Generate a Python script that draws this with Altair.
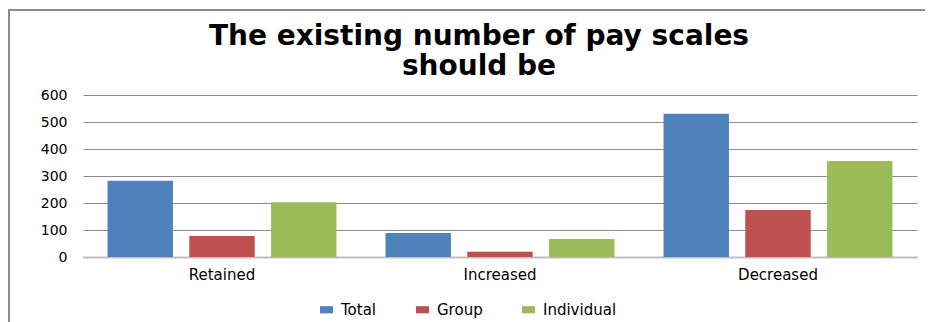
import altair as alt
import pandas as pd

categories = ["Retained", "Increased", "Decreased"]
series = ["Total", "Group", "Individual"]
total = [282, 89, 531]
group = [78, 19, 174]
individual = [203, 67, 356]
colors = ["#4F81BD", "#C0504D", "#9BBB59"]
y_ticks = [0, 100, 200, 300, 400, 500, 600]
title_lines = ["The existing number of pay scales", "should be"]

rows = []
for name, vals in zip(series, [total, group, individual]):
    for cat, v in zip(categories, vals):
        rows.append({"category": cat, "series": name, "value": v})
df = pd.DataFrame(rows)

bars = alt.Chart(df).mark_bar().encode(
    x=alt.X(
        "category:N",
        sort=categories,
        scale=alt.Scale(paddingInner=0, paddingOuter=0),
        axis=alt.Axis(
            title=None, labelAngle=0, ticks=False, domainColor="#bfbfbf",
            domainWidth=2, labelFontSize=15, labelPadding=10, labelColor="#000000",
        ),
    ),
    xOffset=alt.XOffset(
        "series:N", sort=series,
        scale=alt.Scale(paddingInner=0.2, paddingOuter=0.3),
    ),
    y=alt.Y(
        "value:Q",
        scale=alt.Scale(domain=[0, 600]),
        axis=alt.Axis(
            values=y_ticks, title=None, domain=False, ticks=False,
            gridColor="#8c8c8c", gridWidth=1, labelFontSize=14,
            labelPadding=16, labelColor="#000000",
        ),
    ),
    color=alt.Color(
        "series:N",
        sort=series,
        scale=alt.Scale(domain=series, range=colors),
        legend=alt.Legend(
            orient="none", legendX=236, legendY=207, direction="horizontal",
            title=None, symbolType="M-1,-0.55L1,-0.55L1,0.55L-1,0.55Z",
            symbolSize=169, symbolStrokeWidth=0, labelFontSize=15,
            labelOffset=7, columnPadding=38, labelColor="#000000",
        ),
    ),
)

frame_data = alt.Data(values=[{"f": 1}])
frame_left = alt.Chart(frame_data).mark_rule(color="#8c8c8c", strokeWidth=2).encode(
    x=alt.value(-74), y=alt.value(-85), y2=alt.value(230)
)
frame_top = alt.Chart(frame_data).mark_rule(color="#8c8c8c", strokeWidth=2).encode(
    x=alt.value(-75), x2=alt.value(860), y=alt.value(-85)
)

chart = alt.layer(bars, frame_left, frame_top).properties(
    width=834,
    height=162,
    title=alt.TitleParams(
        title_lines, fontSize=28, font="DejaVu Sans", fontWeight="bold",
        anchor="middle", frame="group", dx=-21, dy=88, offset=16,
        lineHeight=30, color="#000000",
    ),
    padding={"left": 75, "top": 87, "right": 8, "bottom": 65},
    autosize=alt.AutoSizeParams(type="none"),
).configure(font="DejaVu Sans").configure_view(stroke=None)

chart.save("out.html", embed_options={"renderer": "svg", "actions": False})
